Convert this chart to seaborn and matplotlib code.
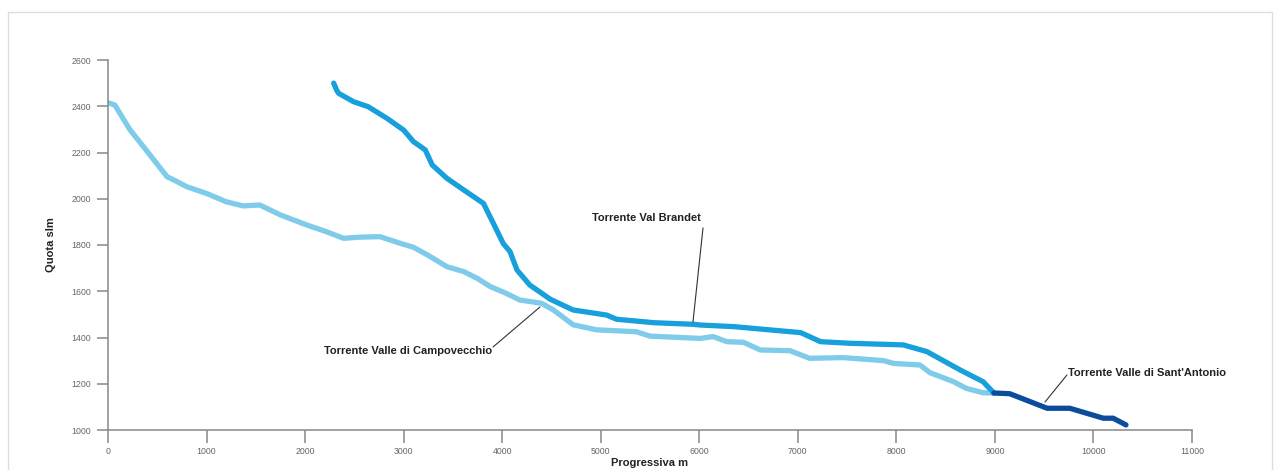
import numpy as np
import pandas as pd
import seaborn as sns
import matplotlib.pyplot as plt
from matplotlib.patches import Rectangle

# --------------------------- DATI ---------------------------
campo_x = [0, 70, 220, 360, 480, 600, 650, 800, 1000, 1200, 1370, 1540, 1750, 2020, 2220,
           2390, 2560, 2760, 2960, 3100, 3250, 3440, 3610, 3750, 3880, 4020, 4180, 4400,
           4520, 4720, 4960, 5360, 5500, 6010, 6140, 6280, 6450, 6620, 6920, 7120, 7460,
           7870, 7970, 8240, 8340, 8580, 8710, 8880, 8990]
campo_y = [2415, 2405, 2300, 2225, 2160, 2095, 2085, 2052, 2023, 1987, 1969, 1973, 1930, 1886, 1857,
           1829, 1834, 1836, 1808, 1790, 1755, 1706, 1685, 1655, 1620, 1595, 1562, 1548,
           1519, 1455, 1433, 1425, 1406, 1396, 1404, 1382, 1379, 1346, 1343, 1310, 1313,
           1300, 1288, 1281, 1248, 1209, 1180, 1161, 1160]

brandet_x = [2290, 2320, 2340, 2490, 2640, 2830, 3000, 3100, 3220, 3290, 3440, 3610, 3810, 3910,
             4010, 4080, 4150, 4280, 4490, 4720, 5060, 5160, 5540, 5940, 6010, 6350, 7030, 7230,
             7530, 8070, 8310, 8650, 8880, 8990]
brandet_y = [2500, 2470, 2456, 2420, 2398, 2348, 2297, 2247, 2211, 2146, 2088, 2038, 1980, 1894,
             1807, 1771, 1692, 1627, 1565, 1519, 1497, 1479, 1464, 1457, 1454, 1447, 1421, 1382,
             1375, 1368, 1339, 1259, 1209, 1160]

santa_x = [8990, 9150, 9530, 9760, 10100, 10200, 10330]
santa_y = [1160, 1157, 1094, 1094, 1051, 1051, 1022]

nomi = ["Torrente Valle di Campovecchio", "Torrente Val Brandet", "Torrente Valle di Sant'Antonio"]
colori = ["#7fcbea", "#17a0dc", "#0b4c9c"]

x_ticks = list(range(0, 11001, 1000))
y_ticks = list(range(1000, 2601, 200))

df = pd.concat([
    pd.DataFrame({"x": campo_x, "y": campo_y, "torrente": nomi[0]}),
    pd.DataFrame({"x": brandet_x, "y": brandet_y, "torrente": nomi[1]}),
    pd.DataFrame({"x": santa_x, "y": santa_y, "torrente": nomi[2]}),
])

# --------------------------- GRAFICO ---------------------------
sns.set_style("white")
plt.rcParams['font.family'] = ['Liberation Sans', 'DejaVu Sans']

fig = plt.figure(figsize=(12.81, 4.70), dpi=100)
ax = fig.add_axes([108/1281, 1-430/470, (1192-108)/1281, (430-60)/470])

sns.lineplot(data=df, x="x", y="y", hue="torrente", palette=dict(zip(nomi, colori)),
             estimator=None, sort=False, linewidth=3.8, legend=False, ax=ax,
             solid_capstyle="round", solid_joinstyle="round")

ax.set_xlim(0, 11000)
ax.set_ylim(1000, 2600)
ax.set_xticks(x_ticks)
ax.set_yticks(y_ticks)
ax.tick_params(axis="both", labelsize=6.3, labelcolor="#666666", color="#888888", width=1.1)
ax.tick_params(axis="y", direction="out", length=8, pad=4, left=True)
ax.tick_params(axis="x", direction="out", length=9, pad=3, bottom=True)

for s in ["top", "right"]:
    ax.spines[s].set_visible(False)
for s in ["left", "bottom"]:
    ax.spines[s].set_color("#888888")
    ax.spines[s].set_linewidth(1.1)

ax.set_xlabel("Progressiva m", fontsize=8, fontweight="bold", color="#222222", labelpad=2)
ax.set_ylabel("Quota slm", fontsize=8, fontweight="bold", color="#222222", labelpad=11)

# etichette con linee di richiamo
etichette = [
    (nomi[1], (4911, 1917), (6038, 1874), (5936, 1467)),
    (nomi[0], (2192, 1342), (3907, 1359), (4384, 1532)),
    (nomi[2], (9741, 1246), (9731, 1238), (9508, 1121)),
]
for testo, pos, da, a in etichette:
    ax.text(pos[0], pos[1], testo, fontsize=8, fontweight="bold", color="#222222",
            ha="left", va="center")
    ax.annotate("", xy=a, xytext=da,
                arrowprops=dict(arrowstyle="-", color="#333333", lw=0.8, shrinkA=0, shrinkB=0))

# cornice esterna
fig.patches.append(Rectangle((8/1281, -0.05), 1264/1281, 1.05-12/470, transform=fig.transFigure,
                             fill=False, edgecolor="#dddddd", linewidth=1))

fig.savefig("out.png", dpi=100)
